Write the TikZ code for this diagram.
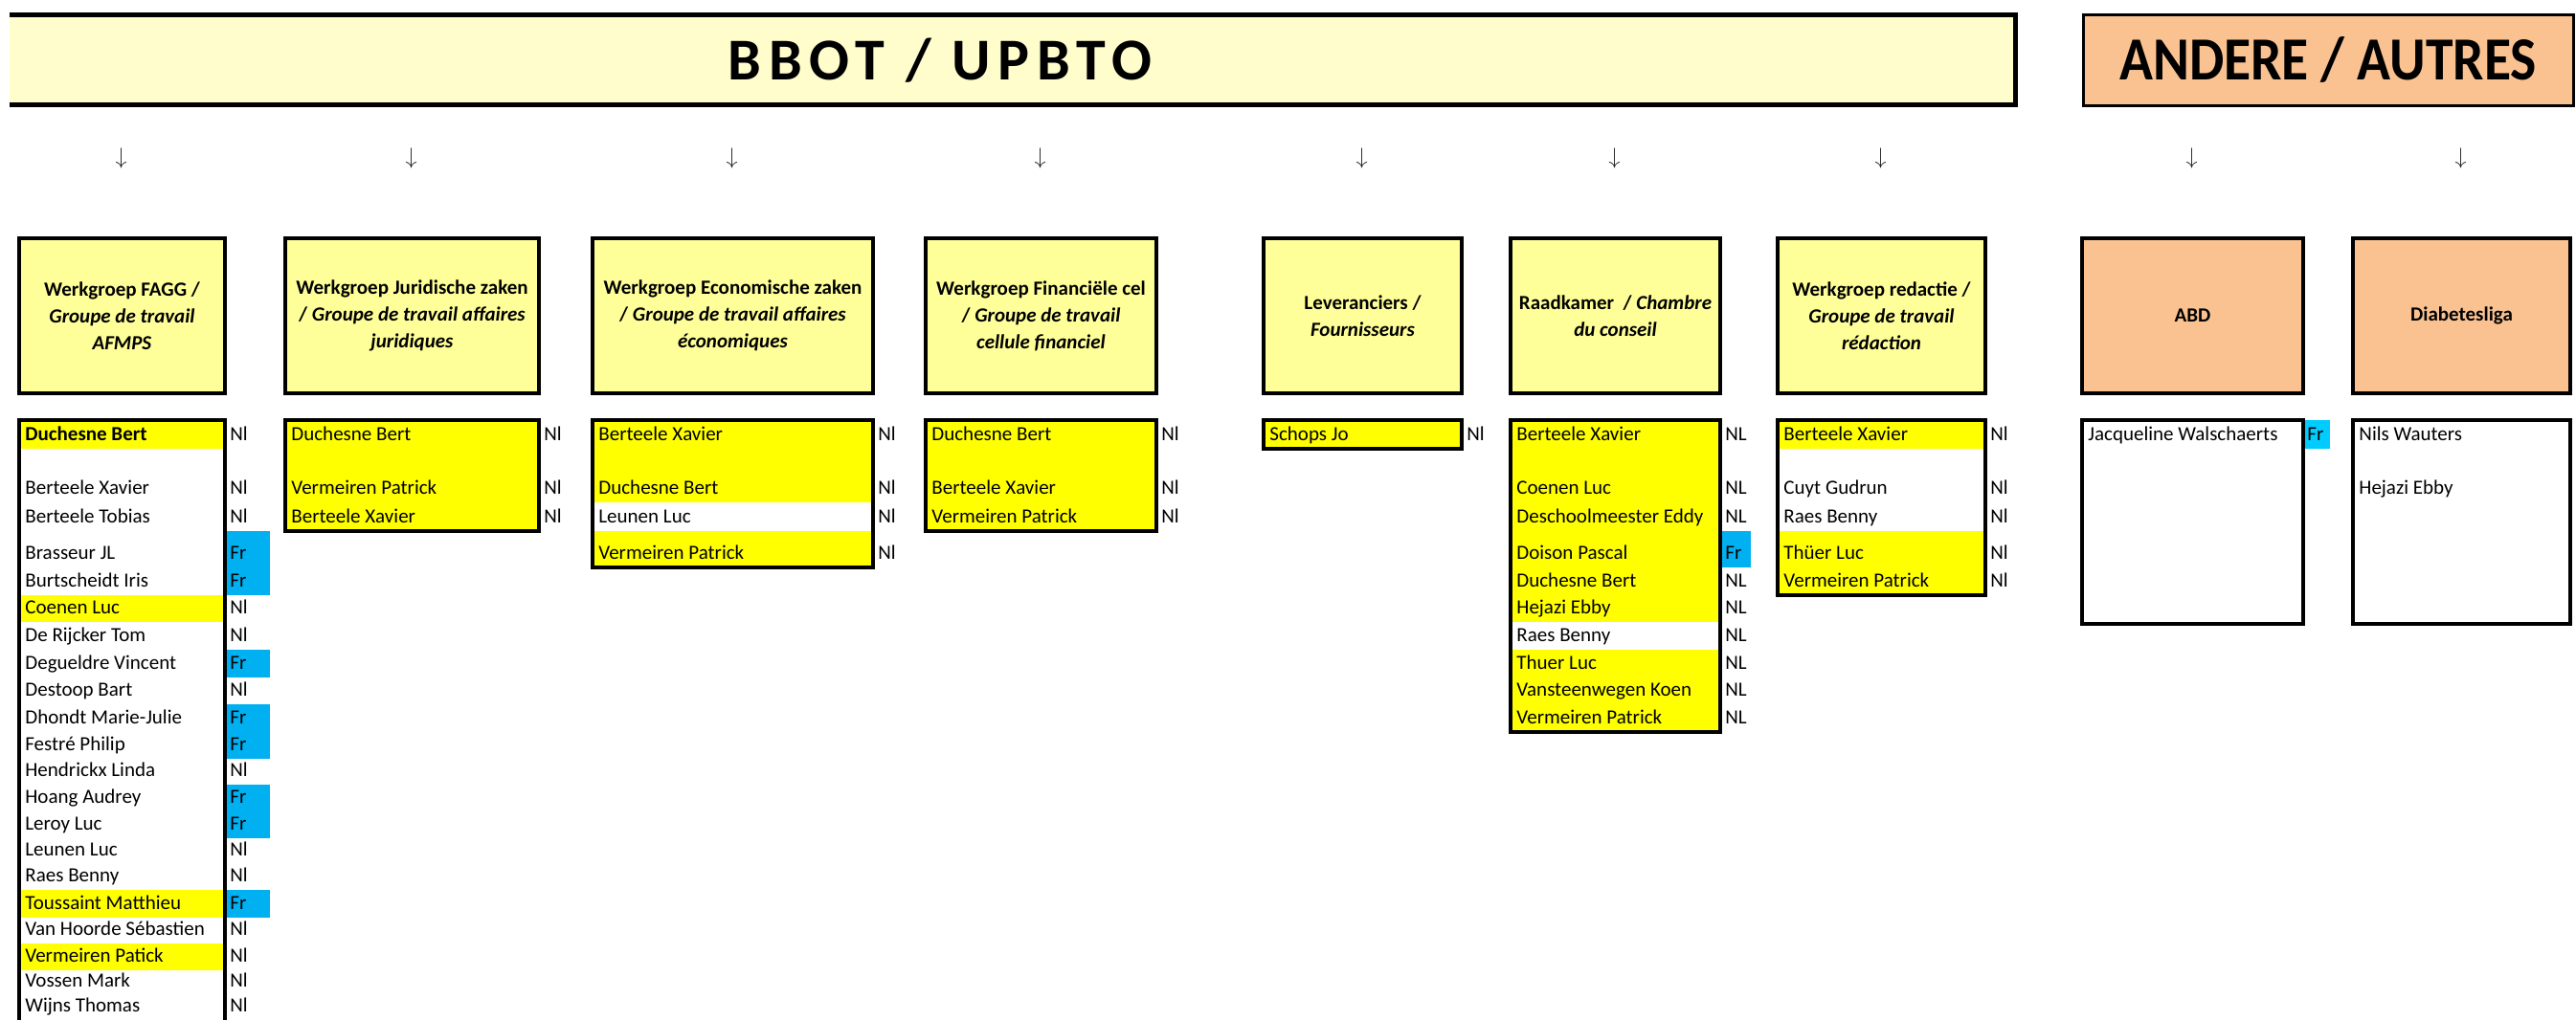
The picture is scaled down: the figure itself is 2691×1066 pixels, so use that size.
\documentclass[tikz,border=0pt]{standalone}
\usepackage{fontspec}
\setmainfont{Carlito}
\usetikzlibrary{positioning}

\definecolor{bbotfill}{RGB}{255,253,204}
\definecolor{headfill}{RGB}{255,255,153}
\definecolor{markfill}{RGB}{255,255,0}
\definecolor{frfill}{RGB}{0,176,240}
\definecolor{frlight}{RGB}{0,204,255}
\definecolor{otherfill}{RGB}{251,194,145}

\tikzset{
  headbox/.style={draw, line width=1.75pt, fill=headfill, align=center,
    minimum height=81pt, inner sep=1pt,
    font=\fontsize{10.5}{14}\selectfont\bfseries},
  otherbox/.style={headbox, fill=otherfill},
  listbox/.style={line width=1.75pt},
  member/.style={anchor=base west, inner sep=0pt,
    font=\fontsize{10.5}{13}\selectfont},
  arrowsym/.style={inner sep=0pt, text=black!85, font=\fontsize{11.5}{14}\selectfont},
}

\begin{document}
\begin{tikzpicture}[x=0.5pt, y=-0.5pt]
\useasboundingbox (0,0) rectangle (2691,1066);

% title bars
\node[fill=bbotfill, minimum width=1047.5pt, minimum height=47pt, inner sep=0pt] (bbot) at (1057.5,62.5) {};
\draw[line width=2.5pt] (bbot.north west) -| (bbot.south east) -- (bbot.south west);
\node[font=\fontsize{31}{36}\selectfont\bfseries\addfontfeature{LetterSpace=12.5}] (bbottitle) at (982,63) {BBOT / UPBTO};
\node[draw, line width=1.5pt, fill=otherfill, minimum width=256pt, minimum height=47.5pt,
  font=\fontsize{32}{36}\selectfont\bfseries] (andere) at (2432,62.5) {\scalebox{0.9}[1]{ANDERE / AUTRES}};

% groups
\node[headbox, minimum width=107.5pt] (fagg) at (127.5,330) {Werkgroep FAGG /\\\textit{Groupe de travail}\\\textit{AFMPS}};
\node[headbox, minimum width=132.5pt] (jur) at (430.5,330) {Werkgroep Juridische zaken\\/ \textit{Groupe de travail affaires}\\\textit{juridiques}};
\node[headbox, minimum width=146.5pt] (eco) at (765.5,330) {Werkgroep Economische zaken\\/ \textit{Groupe de travail affaires}\\\textit{économiques}};
\node[headbox, minimum width=120.5pt] (fin) at (1087.5,330) {Werkgroep Financiële cel\\/ \textit{Groupe de travail}\\\textit{cellule financiel}};
\node[headbox, minimum width=103.5pt] (lev) at (1423.5,330) {Leveranciers /\\\textit{Fournisseurs}};
\node[headbox, minimum width=109.5pt] (raad) at (1687.5,330) {Raadkamer\ \ / \textit{Chambre}\\\textit{du conseil}};
\node[headbox, minimum width=108.5pt] (red) at (1965.5,330) {Werkgroep redactie /\\\textit{Groupe de travail}\\\textit{rédaction}};
\node[otherbox, minimum width=115.5pt] (abd) at (2290.5,330) {ABD};
\node[otherbox, minimum width=113.5pt] (diab) at (2571.5,330) {Diabetesliga};

\foreach \g in {fagg,jur,eco,fin,lev,raad,red,abd,diab}
  \node[arrowsym] (\g-arrow) at ([xshift=-0.5pt, yshift=40.75pt]\g.north) {$\downarrow$};

% marked cells
\fill[markfill] (20,439) rectangle (235,469);
\fill[markfill] (20,622) rectangle (235,650);
\fill[markfill] (20,930) rectangle (235,959);
\fill[markfill] (20,986) rectangle (235,1014);
\fill[frfill] (235,555) rectangle (282,622);
\fill[frfill] (235,679) rectangle (282,708);
\fill[frfill] (235,736) rectangle (282,793);
\fill[frfill] (235,820) rectangle (282,876);
\fill[frfill] (235,930) rectangle (282,959);
\fill[markfill] (298,439) rectangle (563,555);
\fill[markfill] (619,439) rectangle (912,525);
\fill[markfill] (619,555) rectangle (912,593);
\fill[markfill] (967,439) rectangle (1208,555);
\fill[markfill] (1320,439) rectangle (1527,469);
\fill[markfill] (1578,439) rectangle (1797,650);
\fill[markfill] (1578,679) rectangle (1797,765);
\fill[frfill] (1797,555) rectangle (1829,593);
\fill[markfill] (1857,439) rectangle (2074,469);
\fill[markfill] (1857,555) rectangle (2074,622);
\fill[frlight] (2406,439) rectangle (2434,469);

% member lists
\draw[listbox] (20,1066) |- (235,439) -- (235,1066);
\draw[listbox] (298,439) rectangle (563,555);
\draw[listbox] (619,439) rectangle (912,593);
\draw[listbox] (967,439) rectangle (1208,555);
\draw[listbox] (1320,439) rectangle (1527,469);
\draw[listbox] (1578,439) rectangle (1797,765);
\draw[listbox] (1857,439) rectangle (2074,622);
\draw[listbox] (2175,439) rectangle (2406,652);
\draw[listbox] (2458,439) rectangle (2685,652);

\node[member, font=\fontsize{10.5}{13}\selectfont\bfseries] (fagg-0) at (26,460) {Duchesne Bert};
\node[member] (fagg-0-lang) at (240,460) {Nl};
\foreach \nm/\lg/\yb [count=\i] in {Berteele Xavier/Nl/516, Berteele Tobias/Nl/546,
    Brasseur JL/Fr/584, Burtscheidt Iris/Fr/613, Coenen Luc/Nl/641, De Rijcker Tom/Nl/670,
    Degueldre Vincent/Fr/699, Destoop Bart/Nl/727, Dhondt Marie-Julie/Fr/756,
    Festré Philip/Fr/784, Hendrickx Linda/Nl/811, Hoang Audrey/Fr/839, Leroy Luc/Fr/867,
    Leunen Luc/Nl/894, Raes Benny/Nl/921, Toussaint Matthieu/Fr/950,
    Van Hoorde Sébastien/Nl/977, Vermeiren Patick/Nl/1005, Vossen Mark/Nl/1031,
    Wijns Thomas/Nl/1057}{
  \node[member] (fagg-\i) at (26,\yb) {\nm};
  \node[member] (fagg-\i-lang) at (240,\yb) {\lg};
}
\foreach \nm/\yb [count=\i] in {Duchesne Bert/460, Vermeiren Patrick/516, Berteele Xavier/546}{
  \node[member] (jur-\i) at (304,\yb) {\nm};
  \node[member] (jur-\i-lang) at (568,\yb) {Nl};
}
\foreach \nm/\yb [count=\i] in {Berteele Xavier/460, Duchesne Bert/516, Leunen Luc/546, Vermeiren Patrick/584}{
  \node[member] (eco-\i) at (625,\yb) {\nm};
  \node[member] (eco-\i-lang) at (917,\yb) {Nl};
}
\foreach \nm/\yb [count=\i] in {Duchesne Bert/460, Berteele Xavier/516, Vermeiren Patrick/546}{
  \node[member] (fin-\i) at (973,\yb) {\nm};
  \node[member] (fin-\i-lang) at (1213,\yb) {Nl};
}
\node[member] (lev-1) at (1326,460) {Schops Jo};
\node[member] (lev-1-lang) at (1532,460) {Nl};
\foreach \nm/\lg/\yb [count=\i] in {Berteele Xavier/NL/460, Coenen Luc/NL/516,
    Deschoolmeester Eddy/NL/546, Doison Pascal/Fr/584, Duchesne Bert/NL/613,
    Hejazi Ebby/NL/641, Raes Benny/NL/670, Thuer Luc/NL/699,
    Vansteenwegen Koen/NL/727, Vermeiren Patrick/NL/756}{
  \node[member] (raad-\i) at (1584,\yb) {\nm};
  \node[member] (raad-\i-lang) at (1802,\yb) {\lg};
}
\foreach \nm/\yb [count=\i] in {Berteele Xavier/460, Cuyt Gudrun/516, Raes Benny/546,
    Thüer Luc/584, Vermeiren Patrick/613}{
  \node[member] (red-\i) at (1863,\yb) {\nm};
  \node[member] (red-\i-lang) at (2079,\yb) {Nl};
}
\node[member] (abd-1) at (2181,460) {Jacqueline Walschaerts};
\node[member] (abd-1-lang) at (2410,460) {Fr};
\node[member] (diab-1) at (2464,460) {Nils Wauters};
\node[member] (diab-2) at (2464,516) {Hejazi Ebby};
\end{tikzpicture}
\end{document}
